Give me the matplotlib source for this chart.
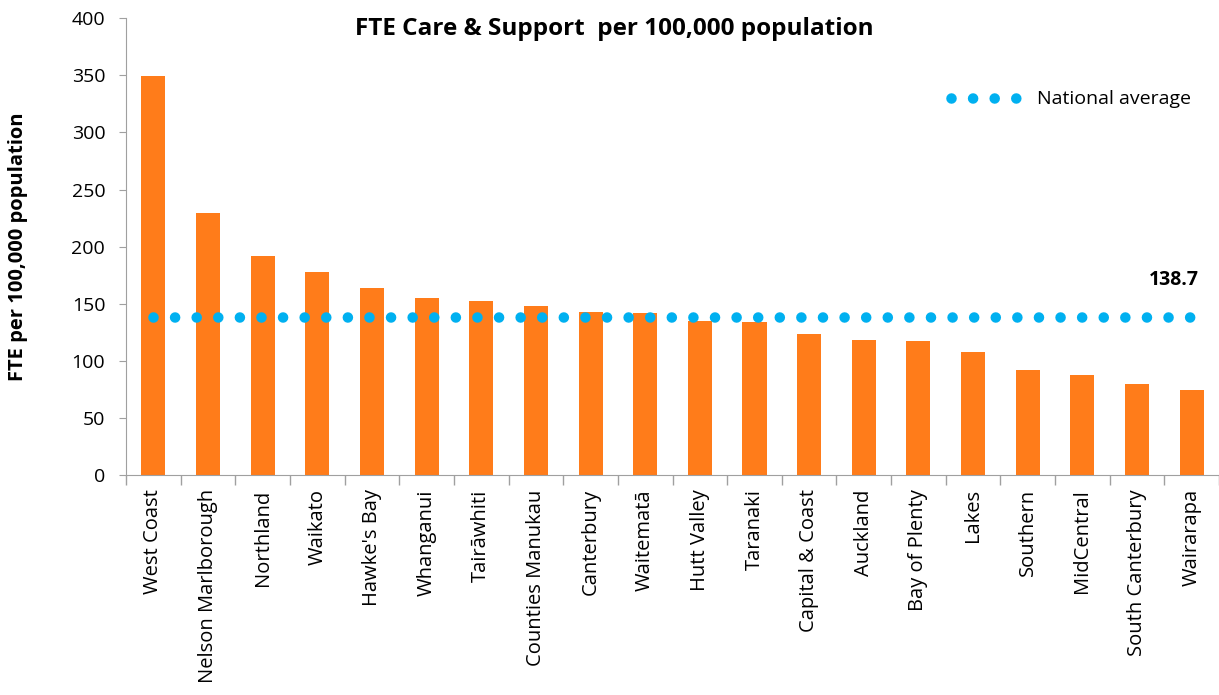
import numpy as np
import matplotlib
matplotlib.use('Agg')
from matplotlib import pyplot as plt

# datos
regiones = ['West Coast', 'Nelson Marlborough', 'Northland', 'Waikato', "Hawke's Bay",
            'Whanganui', 'Tairāwhiti', 'Counties Manukau', 'Canterbury', 'Waitematā',
            'Hutt Valley', 'Taranaki', 'Capital & Coast', 'Auckland', 'Bay of Plenty',
            'Lakes', 'Southern', 'MidCentral', 'South Canterbury', 'Wairarapa']
fte = [349.5, 229.5, 191.5, 177.5, 164.0, 155.0, 152.5, 148.0, 143.0, 142.0,
       135.0, 134.0, 123.5, 118.5, 117.5, 107.5, 92.0, 88.0, 80.0, 74.5]
media_nacional = 138.7

plt.rcParams['font.family'] = ['Open Sans', 'DejaVu Sans']

fig = plt.figure(figsize=(12.19, 6.95), dpi=100)
ax = fig.add_axes([0.1034, 0.316, 0.8966, 0.658])

x = np.arange(len(regiones))
ax.bar(x, fte, width=0.44, color='#FF7C1A', zorder=2)

linea, = ax.plot(x, [media_nacional] * len(regiones), color='#00B0F0', lw=7.6,
                 linestyle=(0, (0.001, 2.045)), dash_capstyle='round', zorder=3,
                 label='National average')

ax.annotate(f'{media_nacional}', xy=(x[-1], media_nacional), xytext=(5, 19),
            textcoords='offset points', ha='right', va='bottom',
            fontsize=14, fontweight='bold')

ax.set_xlim(-0.5, len(regiones) - 0.5)
ax.set_ylim(0, 400)
ax.set_yticks(np.arange(0, 401, 50))

ax.set_xticks(x)
ax.set_xticklabels(regiones, rotation=90, fontsize=14.5)
ax.set_xticks(np.arange(-0.5, len(regiones), 1), minor=True)
ax.tick_params(axis='x', which='major', length=0, pad=10)
ax.tick_params(axis='x', which='minor', length=7, color='#a0a0a0', width=1)
ax.tick_params(axis='y', length=5, color='#a0a0a0', labelsize=14, pad=10)

for s in ['top', 'right']:
    ax.spines[s].set_visible(False)
for s in ['left', 'bottom']:
    ax.spines[s].set_color('#a0a0a0')

ax.set_ylabel('FTE per 100,000 population', fontsize=14.5, fontweight='bold', va='center')
ax.yaxis.set_label_coords(-0.099, 0.5)

fig.text(0.504, 0.958, 'FTE Care & Support  per 100,000 population', ha='center', va='center',
         fontsize=17.5, fontweight='bold')

leg = ax.legend(handles=[linea], loc='upper right', bbox_to_anchor=(0.99, 0.88),
                frameon=False, fontsize=14, handlelength=3.4, handletextpad=1.0)

fig.savefig('out.png', dpi=100)
